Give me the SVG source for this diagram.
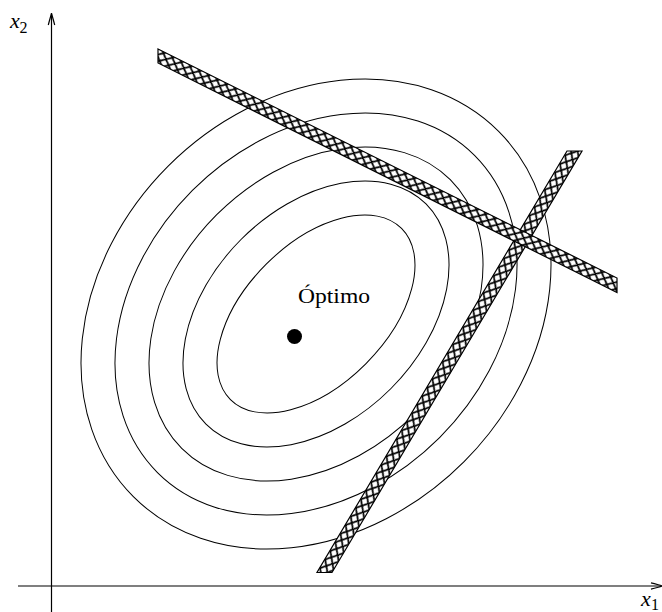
<svg xmlns="http://www.w3.org/2000/svg" width="662" height="612" viewBox="0 0 662 612">
<style>
.c{fill:none;stroke:#000;stroke-width:1}
.ax{fill:none;stroke:#000;stroke-width:1.2}
.band{stroke:#000;stroke-width:1.2}
.hl{fill:none;stroke:#000;stroke-width:1.7}
.t{font-family:"Liberation Serif","DejaVu Serif",serif;fill:#000}
</style>
<defs>
<pattern id="hatch1" patternUnits="userSpaceOnUse" width="10" height="8.5" patternTransform="rotate(26.57)">
<rect width="10" height="8.5" fill="#fff"/>
<path class="hl" d="M-10,-17 L20,8.5 M-10,-8.5 L20,17 M-10,0 L20,25.5 M-10,17 L20,-8.5 M-10,25.5 L20,0 M-10,8.5 L20,-17"/>
</pattern>
<pattern id="hatch2" patternUnits="userSpaceOnUse" width="10" height="8.5" patternTransform="rotate(-59.3)">
<rect width="10" height="8.5" fill="#fff"/>
<path class="hl" d="M-10,-17 L20,8.5 M-10,-8.5 L20,17 M-10,0 L20,25.5 M-10,17 L20,-8.5 M-10,25.5 L20,0 M-10,8.5 L20,-17"/>
</pattern>
</defs>
<g id="axes">
<line class="ax" x1="51.5" y1="612" x2="51.5" y2="14"/>
<path class="ax" d="M48.3,25 C49.8,19 51,15.5 51.5,13 C52,15.5 53.2,19 54.7,25"/>
<line class="ax" x1="18" y1="586" x2="661" y2="586"/>
<path class="ax" d="M651,582.8 C657,584.3 660.5,585.5 663,586 C660.5,586.5 657,587.7 651,589.2"/>
</g>
<g id="contours" transform="translate(316 314) rotate(-45)">
<ellipse class="c" cx="0" cy="0" rx="121" ry="70.4"/>
<ellipse class="c" cx="0" cy="0" rx="155.6" ry="105.7"/>
<ellipse class="c" cx="0" cy="0" rx="189.9" ry="140.4"/>
<ellipse class="c" cx="0" cy="0" rx="224.2" ry="174.8"/>
<ellipse class="c" cx="0" cy="0" rx="258.3" ry="209.1"/>
</g>
<g id="restriction2">
<polygon class="band" fill="url(#hatch2)" points="567,151 582,151 332,572.5 317,572.5"/>
</g>
<g id="restriction1">
<polygon class="band" fill="url(#hatch1)" points="158,49 617,278 617,292.5 158,63"/>
</g>
<g id="optimum">
<circle cx="294.5" cy="336.5" r="7.5" fill="#000"/>
<text class="t" x="298" y="303" font-size="21" textLength="72" lengthAdjust="spacingAndGlyphs">Óptimo</text>
</g>
<g id="labels">
<text class="t" x="10" y="28" font-size="22" font-style="italic">x</text>
<text class="t" x="19.5" y="33" font-size="16">2</text>
<text class="t" x="641" y="606" font-size="22" font-style="italic">x</text>
<text class="t" x="651" y="610" font-size="16">1</text>
</g>
</svg>
